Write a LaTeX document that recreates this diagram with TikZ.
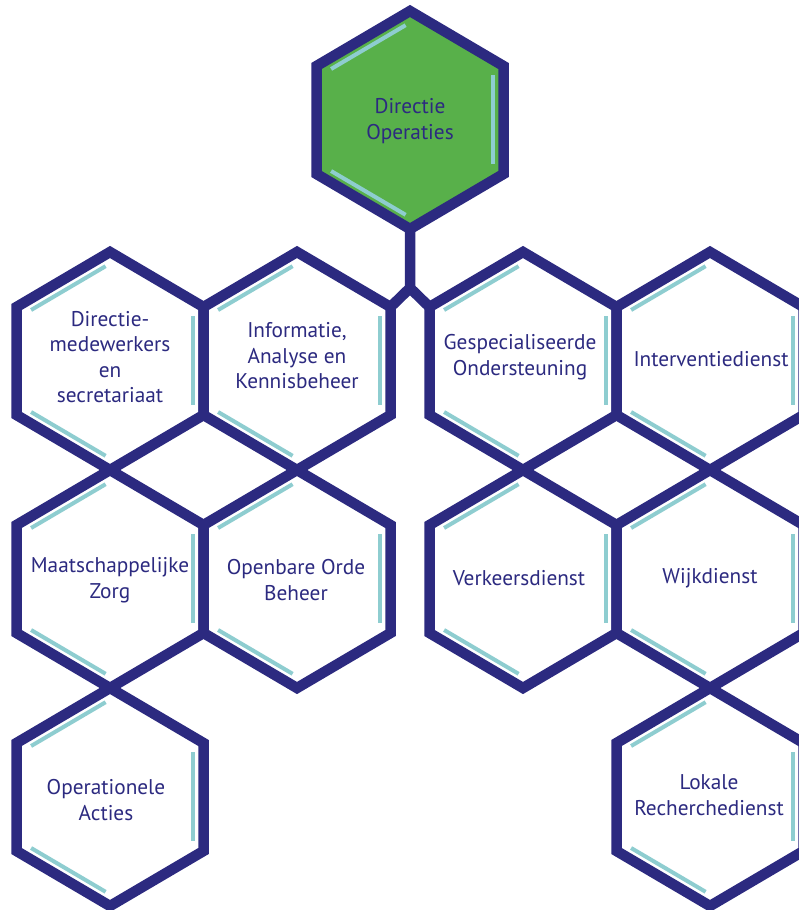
\documentclass[tikz,border=0pt]{standalone}
\usepackage{fontspec}
\setmainfont{PT Sans}
\definecolor{navy}{HTML}{2C2A80}
\definecolor{tealline}{HTML}{8ECDD0}
\definecolor{hexgreen}{HTML}{58B04A}
\tikzset{
  hexshape/.pic={
    \path[pic actions] (0,-109) -- (93.5,-54) -- (93.5,54) -- (0,109) -- (-93.5,54) -- (-93.5,-54) -- cycle;
    \coordinate (-n) at (0,-109);
    \coordinate (-s) at (0,109);
    \coordinate (-ne) at (93.5,-54);
    \coordinate (-nw) at (-93.5,-54);
  },
  tealmarks/.pic={
    \draw[tealline, line width=4pt] (-78.9,-51) -- (-4.4,-94.8);
    \draw[tealline, line width=4pt] (83,-45) -- (83,44);
    \draw[tealline, line width=4pt] (-78.9,51) -- (-4.4,94.8);
  },
  hexfill/.style={fill=white},
  hexline/.style={draw=navy, line width=10.5pt, line join=miter},
  lbl/.style={text=navy, align=center, inner sep=0pt, font=\fontsize{21.3}{25.5}\selectfont},
  conn/.style={draw=navy, line width=10.5pt, line join=miter},
}
\begin{document}
\begin{tikzpicture}[x=1pt,y=-1pt]
\useasboundingbox (0,0) rectangle (799,910);
\clip (0,0) rectangle (799,910);
% fills
\pic[fill=hexgreen] at (410,120) {hexshape};
\foreach \cx/\cy in {110/361,297/361,523/361,710/361,110/579,297/579,523/579,710/579,110/797,710/797}
  \pic[hexfill] at (\cx,\cy) {hexshape};
% outlines with named vertices
\pic[hexline] (top) at (410,120) {hexshape};
\pic[hexline] (dm) at (110,361) {hexshape};
\pic[hexline] (iak) at (297,361) {hexshape};
\pic[hexline] (gos) at (523,361) {hexshape};
\pic[hexline] (int) at (710,361) {hexshape};
\pic[hexline] (mz) at (110,579) {hexshape};
\pic[hexline] (oob) at (297,579) {hexshape};
\pic[hexline] (vd) at (523,579) {hexshape};
\pic[hexline] (wd) at (710,579) {hexshape};
\pic[hexline] (oa) at (110,797) {hexshape};
\pic[hexline] (lr) at (710,797) {hexshape};
% teal inner marks
\foreach \cx/\cy in {410/120,110/361,297/361,523/361,710/361,110/579,297/579,523/579,710/579,110/797,710/797}
  \pic at (\cx,\cy) {tealmarks};
% connector
\coordinate (split) at (410,288);
\draw[conn] (top-s) -- (split) -- (iak-ne);
\draw[conn] (split) -- (gos-nw);
% labels
\node[lbl] (l-top) at (410,121) {Directie\\Operaties};
\node[lbl] (l-dm) at (110,357) {Directie-\\medewerkers\\en\\secretariaat};
\node[lbl] (l-iak) at (297,356) {Informatie,\\Analyse en\\Kennisbeheer};
\node[lbl] (l-gos) at (520,357) {Gespecialiseerde\\Ondersteuning};
\node[lbl] (l-int) at (711,359) {Interventiedienst};
\node[lbl] (l-mz) at (110,580) {Maatschappelijke\\Zorg};
\node[lbl] (l-oob) at (296,580) {Openbare Orde\\Beheer};
\node[lbl] (l-vd) at (519,578) {Verkeersdienst};
\node[lbl] (l-wd) at (710,578) {Wijkdienst};
\node[lbl] (l-oa) at (106,800) {Operationele\\Acties};
\node[lbl] (l-lr) at (709,795) {Lokale\\Recherchedienst};
\end{tikzpicture}
\end{document}
